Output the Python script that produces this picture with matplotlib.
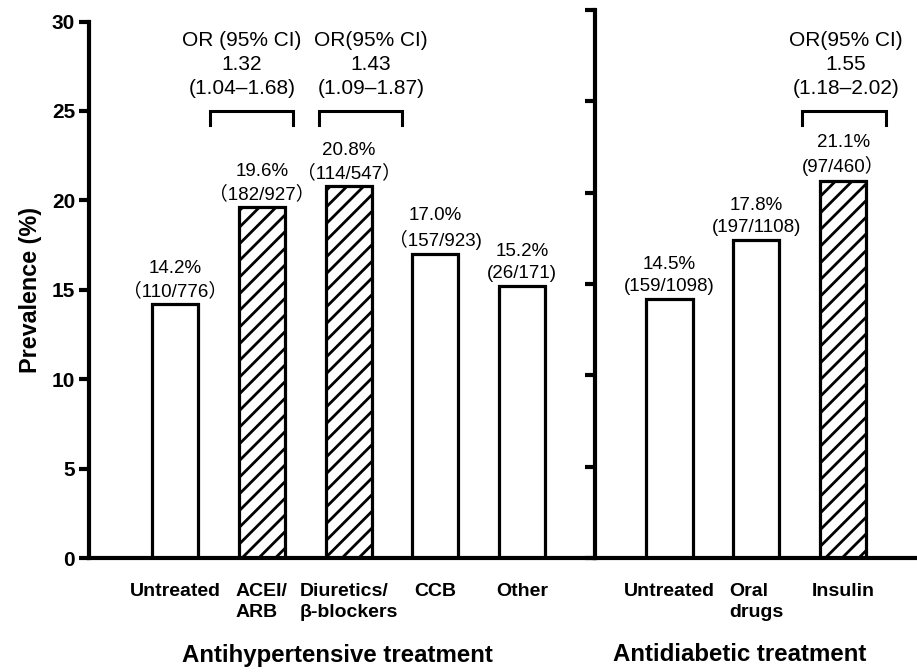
import matplotlib
matplotlib.use("Agg")
import matplotlib.pyplot as plt
import matplotlib.transforms as mtransforms
import numpy as np

# antihypertensive treatment
left_cats = ["Untreated", "ACEI/\nARB", "Diuretics/\nβ-blockers", "CCB", "Other"]
left_prev = [14.2, 19.6, 20.8, 17.0, 15.2]
left_counts = ["（110/776）", "（182/927）", "（114/547）", "（157/923)", "(26/171)"]
left_hatched = [False, True, True, False, False]
left_or = ["OR (95% CI)\n1.32\n(1.04–1.68)", "OR(95% CI)\n1.43\n(1.09–1.87)"]

# antidiabetic treatment
right_cats = ["Untreated", "Oral\ndrugs", "Insulin"]
right_prev = [14.5, 17.8, 21.1]
right_counts = ["(159/1098)", "(197/1108)", "(97/460）"]
right_hatched = [False, False, True]
right_or = ["OR(95% CI)\n1.55\n(1.18–2.02)"]

plt.rcParams["hatch.linewidth"] = 2.0
plt.rcParams["hatch.color"] = "black"

TXT = ["Liberation Sans", "Noto Sans CJK SC", "DejaVu Sans"]

fig = plt.figure(figsize=(9.17, 6.72), dpi=100)
W, H = 917, 672
x_left, x_mid, y_bot = 89, 595, 558
unit = 86.8  # px per bar slot

ax_l = fig.add_axes([x_left / W, (H - y_bot) / H, (x_mid - x_left) / W, (y_bot - 21.5) / H])
ax_r = fig.add_axes([x_mid / W, (H - y_bot) / H, (W - x_mid) / W, (y_bot - 10) / H])

ymax_l = 30
ymax_r = ymax_l * (y_bot - 10) / (y_bot - 21.5)


def draw_panel(ax, cats, prev, counts, hatched, xlim, ymax):
    x = np.arange(len(cats))
    bars = ax.bar(x, prev, width=0.53, color="white", edgecolor="black", linewidth=2.3,
                  hatch=["//" if h else "" for h in hatched])
    for b, v, c in zip(bars, prev, counts):
        ax.annotate(f"{v:.1f}%\n{c}", (b.get_x() + b.get_width() / 2, v),
                    xytext=(0, 3), textcoords="offset points", ha="center", va="bottom",
                    fontsize=13.5, family=TXT, linespacing=1.36)
    ax.set_xlim(*xlim)
    ax.set_ylim(0, ymax)
    ax.set_xticks(x)
    ax.set_xticklabels(cats, fontsize=14, fontweight="bold", family=TXT,
                       va="top", linespacing=1.3)
    for lbl in ax.get_xticklabels():
        lbl.set_multialignment("left")
    ax.tick_params(axis="x", length=0, pad=18)
    for s in ["top", "right"]:
        ax.spines[s].set_visible(False)
    ax.spines["left"].set_linewidth(3)
    ax.spines["bottom"].set_linewidth(3)
    ax.tick_params(axis="y", length=7, width=3, direction="out")
    return x


def bracket(ax, x0, x1, text, xt):
    ax.plot([x0, x0, x1, x1], [24.2, 25, 25, 24.2], color="black", lw=2.2,
            solid_joinstyle="miter", clip_on=False)
    ax.text(xt, 25.7, text, ha="center", va="bottom", fontsize=15, family=TXT,
            linespacing=1.34, multialignment="center")


draw_panel(ax_l, left_cats, left_prev, left_counts, left_hatched,
           (-(175 - x_left) / unit, (x_mid - 175) / unit), ymax_l)
draw_panel(ax_r, right_cats, right_prev, right_counts, right_hatched,
           (-(669.5 - x_mid) / unit, (W - 669.5) / unit), ymax_r)

ax_l.set_yticks(np.arange(0, 31, 5))
ax_l.set_yticklabels([str(v) for v in range(0, 31, 5)], fontsize=15, fontweight="bold", family=TXT)
ax_l.tick_params(axis="y", pad=3)
ax_l.set_ylabel("Prevalence (%)", fontsize=16.8, fontweight="bold", family=TXT, labelpad=7)

ax_r.set_yticks(np.linspace(0, ymax_r, 7))
ax_r.set_yticklabels([])

bracket(ax_l, 0.40, 1.36, left_or[0], 0.77)
bracket(ax_l, 1.66, 2.62, left_or[1], 2.26)
bracket(ax_r, 1.53, 2.49, right_or[0], 2.03)

tl = mtransforms.blended_transform_factory(ax_l.transData, ax_l.transAxes)
ax_l.text(1.87, -0.181, "Antihypertensive treatment", transform=tl, ha="center", va="center",
          fontsize=17.3, fontweight="bold", family=TXT)
tr = mtransforms.blended_transform_factory(ax_r.transData, ax_r.transAxes)
ax_r.text(0.81, -0.177, "Antidiabetic treatment", transform=tr, ha="center", va="center",
          fontsize=17.3, fontweight="bold", family=TXT)

fig.savefig("out.png", dpi=100)
